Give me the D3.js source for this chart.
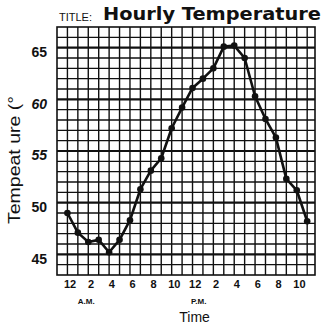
<!DOCTYPE html>
<html>
<head>
<meta charset="utf-8">
<script src="https://cdn.jsdelivr.net/npm/d3@7"></script>
<style>
  html, body { margin: 0; padding: 0; background: #fff; }
  svg { display: block; }
</style>
</head>
<body>
<svg id="chart" width="324" height="325"></svg>
<script>
// Hour of day (0 = midnight) and recorded temperature in degrees
const hours = d3.range(0, 24);
const temperatures = [49, 47.1, 46.2, 46.4, 45.2, 46.4, 48.3, 51.3, 53.1, 54.3, 57.2, 59.2,
                      61.1, 62, 63, 65.1, 65.2, 64, 60.3, 58.1, 56.3, 52.3, 51.2, 48.2];
const xTickHours = [0, 2, 4, 6, 8, 10, 12, 14, 16, 18, 20, 22];
const xTickLabels = ["12", "2", "4", "6", "8", "10", "12", "2", "4", "6", "8", "10"];
const yTickValues = [45, 50, 55, 60, 65];
const italicTicks = [55, 60];

const svg = d3.select("#chart");
const plotLeft = 57, plotRight = 315, plotTop = 27, plotBottom = 275;

const x = d3.scaleLinear().domain([-1, 23.75]).range([plotLeft, plotRight]);
const y = d3.scaleLinear().domain([43, 67]).range([plotBottom, plotTop]);

const ink = "#111";
const sans = "Liberation Sans, Arial, sans-serif";

// Graph-paper grid: one column per hour, one row per degree
const grid = svg.append("g");
grid.selectAll("line.v")
  .data(d3.range(0, 24))
  .join("line")
  .attr("class", "v")
  .attr("x1", d => x(d)).attr("x2", d => x(d))
  .attr("y1", plotTop).attr("y2", plotBottom)
  .attr("stroke", ink).attr("stroke-width", 1.4);
grid.selectAll("line.h")
  .data(d3.range(44, 67))
  .join("line")
  .attr("class", "h")
  .attr("x1", plotLeft).attr("x2", plotRight)
  .attr("y1", d => y(d)).attr("y2", d => y(d))
  .attr("stroke", ink)
  .attr("stroke-width", d => d % 5 === 0 ? 2.2 : 1.4);
grid.append("rect")
  .attr("x", plotLeft).attr("y", plotTop)
  .attr("width", plotRight - plotLeft).attr("height", plotBottom - plotTop)
  .attr("fill", "none").attr("stroke", ink).attr("stroke-width", 1.6);

// Y axis labels
const yAxis = svg.append("g")
  .attr("transform", `translate(${plotLeft},0)`)
  .call(d3.axisLeft(y).tickValues(yTickValues).tickSize(0).tickPadding(10));
yAxis.select(".domain").remove();
yAxis.selectAll("text")
  .attr("font-family", sans)
  .attr("font-size", 14)
  .attr("font-weight", "bold")
  .attr("fill", ink)
  .attr("dy", "0.62em")
  .attr("font-style", d => italicTicks.includes(d) ? "italic" : "normal");

// X axis labels
const xAxis = svg.append("g")
  .attr("transform", `translate(0,${plotBottom})`)
  .call(d3.axisBottom(x).tickValues(xTickHours)
    .tickFormat((d, i) => xTickLabels[i]).tickSize(0).tickPadding(5));
xAxis.select(".domain").remove();
xAxis.selectAll("text")
  .attr("font-family", sans)
  .attr("font-size", 11)
  .attr("font-weight", "bold")
  .attr("fill", ink)
  .attr("dx", "0.2em");

svg.append("text").attr("x", x(2) - 2).attr("y", 304)
  .attr("text-anchor", "middle").attr("font-family", sans)
  .attr("font-size", 8).attr("font-weight", "bold").attr("fill", ink).text("A.M.");
svg.append("text").attr("x", x(12.6)).attr("y", 304)
  .attr("text-anchor", "middle").attr("font-family", sans)
  .attr("font-size", 8).attr("font-weight", "bold").attr("fill", ink).text("P.M.");
svg.append("text").attr("x", x(12.2)).attr("y", 322)
  .attr("text-anchor", "middle").attr("font-family", sans)
  .attr("font-size", 14).attr("fill", ink).text("Time");

// Y axis title
svg.append("text")
  .attr("transform", "translate(20,160) rotate(-90)")
  .attr("text-anchor", "middle").attr("font-family", sans)
  .attr("font-size", 16).attr("fill", ink)
  .attr("textLength", 128).attr("lengthAdjust", "spacingAndGlyphs")
  .text("Tempeat ure (°");

// Title
svg.append("text").attr("x", 59).attr("y", 21)
  .attr("font-family", sans).attr("font-size", 11).attr("fill", ink).text("TITLE:");
svg.append("text").attr("x", 103).attr("y", 20)
  .attr("font-family", "DejaVu Sans, sans-serif").attr("font-size", 17)
  .attr("font-weight", "bold").attr("fill", ink)
  .attr("textLength", 218).attr("lengthAdjust", "spacingAndGlyphs")
  .text("Hourly Temperature");

// Temperature line and hourly points
const series = hours.map((h, i) => ({ h, t: temperatures[i] }));
svg.append("path")
  .datum(series)
  .attr("fill", "none").attr("stroke", ink).attr("stroke-width", 2.6)
  .attr("stroke-linejoin", "round")
  .attr("d", d3.line().x(d => x(d.h)).y(d => y(d.t)));
svg.selectAll("circle.pt")
  .data(series)
  .join("circle")
  .attr("class", "pt")
  .attr("cx", d => x(d.h)).attr("cy", d => y(d.t))
  .attr("r", 3.3).attr("fill", ink);
</script>
</body>
</html>
